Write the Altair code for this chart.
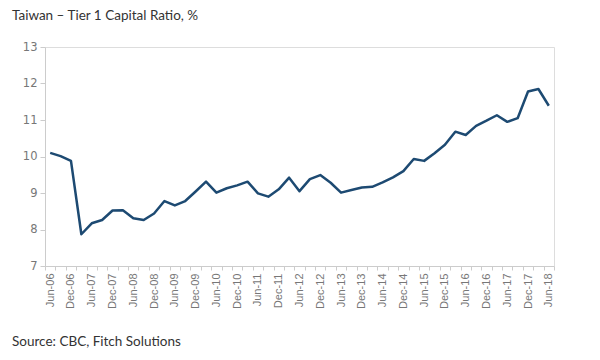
import altair as alt
import pandas as pd

years = [f"{y:02d}" for y in range(6, 19)]
quarters = []
for i, y in enumerate(years):
    for m in ["Mar", "Jun", "Sep", "Dec"]:
        quarters.append(f"{m}-{y}")
quarters = quarters[1:quarters.index("Jun-18") + 1]

ratio = [10.10, 10.01, 9.88, 7.87, 8.17, 8.26, 8.52, 8.53, 8.31, 8.26,
         8.44, 8.78, 8.66, 8.78, 9.04, 9.31, 9.01, 9.13, 9.21, 9.31,
         8.99, 8.90, 9.10, 9.42, 9.05, 9.38, 9.49, 9.28, 9.01, 9.08,
         9.15, 9.17, 9.29, 9.43, 9.60, 9.93, 9.88, 10.09, 10.32, 10.68,
         10.59, 10.84, 10.98, 11.13, 10.95, 11.05, 11.78, 11.85, 11.39]

df = pd.DataFrame({"q": quarters, "v": ratio})

W, H = 509, 219

line = alt.Chart(df).mark_line(color="#1d4a72", strokeWidth=2.5, strokeJoin="round").encode(
    x=alt.X("q:N", sort=quarters, title=None,
            scale=alt.Scale(paddingInner=0, paddingOuter=0),
            axis=alt.Axis(labelAngle=270, labelAlign="right", labelBaseline="middle",
                          labelExpr="(slice(datum.label,0,3)=='Jun' || slice(datum.label,0,3)=='Dec') ? datum.label : ''",
                          labelOverlap=False, labelBound=False, tickBand="extent",
                          labelFont="Liberation Sans", labelFontSize=11, labelColor="#777",
                          labelPadding=3, tickSize=4, tickColor="#ccc", domainColor="#ccc",
                          grid=False)),
    y=alt.Y("v:Q", title=None,
            scale=alt.Scale(domain=[7, 13], nice=False, zero=False),
            axis=alt.Axis(values=[7, 8, 9, 10, 11, 12, 13], tickSize=5, tickColor="#ccc",
                          domainColor="#ccc", grid=False, labelFont="DejaVu Sans",
                          labelFontSize=11.5, labelColor="#777", labelPadding=3)),
)

title = alt.Chart(pd.DataFrame({"t": ["Taiwan – Tier 1 Capital Ratio, %"]})).mark_text(
    align="left", baseline="middle", font="Lato", fontSize=13.5, color="#333"
).encode(text="t:N", x=alt.value(-33), y=alt.value(-31))

source = alt.Chart(pd.DataFrame({"t": ["Source: CBC, Fitch Solutions"]})).mark_text(
    align="left", baseline="middle", font="Lato", fontSize=13.5, color="#333"
).encode(text="t:N", x=alt.value(-33), y=alt.value(295))

chart = alt.layer(line, title, source).properties(
    width=W, height=H,
    autosize=alt.AutoSizeParams(type="none"),
    padding={"left": 37, "top": 39, "right": 30, "bottom": 94},
).configure_view(stroke="#ccc", strokeWidth=1.5).configure(background="white")

chart.save("out.html", embed_options={"renderer": "svg", "actions": False})
